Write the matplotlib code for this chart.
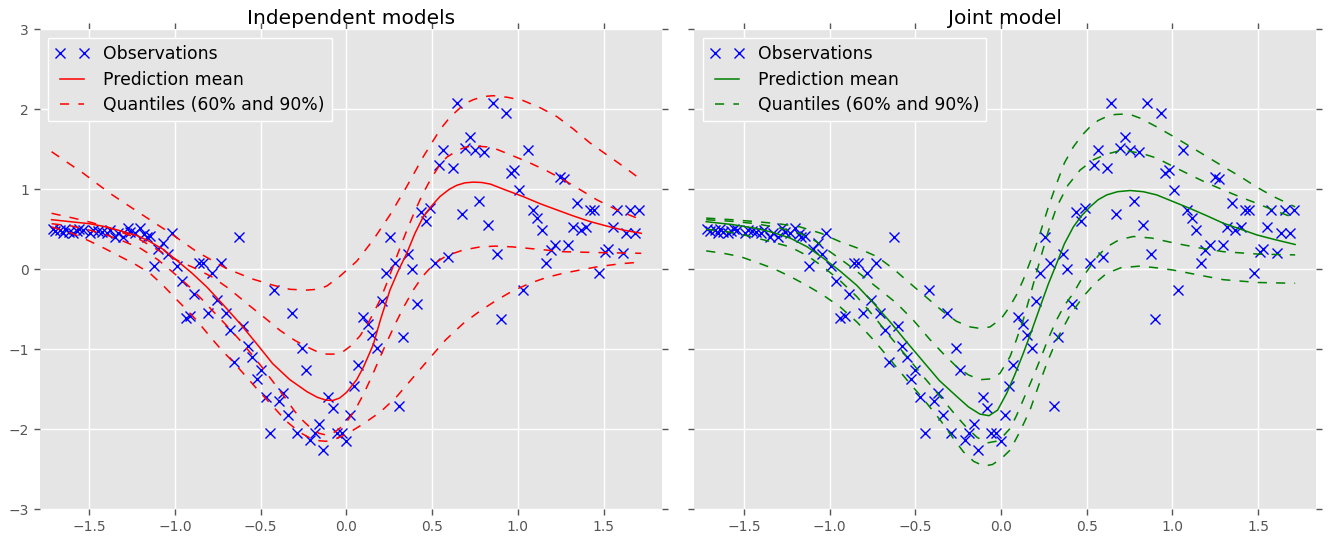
import matplotlib
matplotlib.use("Agg")
import matplotlib.pyplot as plt

# ---------------- data ----------------
obs_x = [-1.713, -1.700, -1.670, -1.652, -1.642, -1.620, -1.593, -1.574, -1.560, -1.539,
         -1.496, -1.477, -1.450, -1.428, -1.399, -1.380, -1.350, -1.331, -1.302, -1.276,
         -1.260, -1.233, -1.204, -1.180, -1.165, -1.146, -1.121, -1.097, -1.068, -1.043,
         -1.019, -0.990, -0.961, -0.938, -0.913, -0.889, -0.858, -0.835, -0.806, -0.782,
         -0.757, -0.730, -0.704, -0.679, -0.654, -0.627, -0.602, -0.576, -0.551, -0.523,
         -0.500, -0.470, -0.446, -0.420, -0.392, -0.368, -0.340, -0.316, -0.290, -0.261,
         -0.237, -0.212, -0.185, -0.158, -0.135, -0.106, -0.080, -0.057, -0.027, 0.000,
         0.021, 0.046, 0.068, 0.099, 0.128, 0.151, 0.180, 0.206, 0.229, 0.254,
         0.284, 0.309, 0.332, 0.361, 0.385, 0.414, 0.435, 0.464, 0.488, 0.517,
         0.540, 0.565, 0.595, 0.620, 0.644, 0.673, 0.692, 0.721, 0.750, 0.775,
         0.803, 0.828, 0.854, 0.877, 0.900, 0.931, 0.958, 0.978, 1.009, 1.032,
         1.061, 1.087, 1.114, 1.139, 1.164, 1.192, 1.217, 1.246, 1.270, 1.295,
         1.320, 1.347, 1.367, 1.398, 1.421, 1.444, 1.476, 1.509, 1.528, 1.554,
         1.577, 1.612, 1.631, 1.655, 1.684, 1.709]
obs_y = [0.51, 0.48, 0.49, 0.46, 0.51, 0.47, 0.46, 0.48, 0.50, 0.49,
         0.46, 0.49, 0.48, 0.47, 0.46, 0.49, 0.41, 0.46, 0.41, 0.52,
         0.47, 0.46, 0.52, 0.44, 0.41, 0.42, 0.045, 0.25, 0.33, 0.19,
         0.46, 0.045, -0.14, -0.61, -0.585, -0.31, 0.075, 0.075, -0.54, -0.04,
         -0.38, 0.075, -0.54, -0.76, -1.16, 0.41, -0.71, -0.96, -1.095, -1.375,
         -1.26, -1.595, -2.04, -0.26, -1.65, -1.54, -1.82, -0.54, -2.04, -0.98,
         -1.26, -2.13, -2.04, -1.93, -2.26, -1.595, -1.73, -2.04, -2.04, -2.15,
         -1.82, -1.46, -1.19, -0.59, -0.68, -0.82, -0.98, -0.40, -0.04, 0.41,
         0.075, -1.71, -0.845, 0.19, 0.01, -0.435, 0.72, 0.605, 0.765, 0.075,
         1.30, 1.495, 0.16, 1.27, 2.08, 0.69, 1.515, 1.66, 1.495, 0.85,
         1.465, 0.55, 2.08, 0.19, -0.62, 1.96, 1.20, 1.245, 0.995, -0.26,
         1.495, 0.745, 0.64, 0.49, 0.075, 0.24, 0.305, 1.15, 1.13, 0.305,
         0.53, 0.83, 0.49, 0.53, 0.745, 0.745, -0.04, 0.22, 0.25, 0.53,
         0.745, 0.21, 0.46, 0.745, 0.46, 0.745]

# Independent models (red)
ind_mean_x = [-1.72, -1.5, -1.4, -1.3, -1.22, -1.15, -1.07, -1.0, -0.9, -0.815, -0.72,
              -0.62, -0.52, -0.43, -0.33, -0.23, -0.17, -0.12, -0.08, -0.04, 0.0,
              0.06, 0.1, 0.157, 0.2, 0.254, 0.3, 0.352, 0.4, 0.449, 0.5, 0.546, 0.6,
              0.644, 0.69, 0.74, 0.79, 0.84, 0.93, 1.03, 1.13, 1.227, 1.32, 1.421, 1.52,
              1.616, 1.72]
ind_mean_y = [0.62, 0.57, 0.53, 0.47, 0.42, 0.35, 0.25, 0.13, -0.05, -0.22, -0.44,
              -0.68, -0.94, -1.18, -1.38, -1.53, -1.60, -1.635, -1.64, -1.61, -1.54,
              -1.38, -1.22, -0.94, -0.62, -0.26, -0.03, 0.2, 0.45, 0.66, 0.80, 0.91, 1.0,
              1.05, 1.08, 1.09, 1.085, 1.065, 0.99, 0.91, 0.82, 0.743, 0.67, 0.597, 0.54,
              0.49, 0.45]
ind_u90_x = [-1.72, -1.535, -1.38, -1.204, -1.04, -0.873, -0.70, -0.55, -0.426, -0.33,
             -0.232, -0.17, -0.115, -0.04, 0.06, 0.157, 0.254, 0.352, 0.449, 0.546,
             0.6, 0.644, 0.69, 0.74, 0.8, 0.857, 0.94, 1.03, 1.13, 1.227, 1.32, 1.421,
             1.52, 1.616, 1.72]
ind_u90_y = [1.47, 1.20, 0.95, 0.70, 0.47, 0.22, 0.01, -0.12, -0.20, -0.25,
             -0.26, -0.25, -0.21, -0.09, 0.10, 0.37, 0.68, 1.035, 1.41, 1.745,
             1.89, 1.98, 2.07, 2.12, 2.16, 2.17, 2.15, 2.11, 2.02, 1.91, 1.76, 1.58,
             1.43, 1.285, 1.12]
ind_u60_x = [-1.72, -1.593, -1.496, -1.40, -1.22, -1.05, -0.97, -0.87, -0.78, -0.68,
             -0.58, -0.48, -0.39, -0.30, -0.23, -0.17, -0.115, -0.06, -0.02, 0.03,
             0.08, 0.13, 0.196, 0.24, 0.29, 0.34, 0.39, 0.44, 0.49, 0.54, 0.585,
             0.65, 0.70, 0.76, 0.82, 0.877, 0.97, 1.07, 1.17, 1.265, 1.36, 1.46,
             1.59, 1.72]
ind_u60_y = [0.70, 0.64, 0.59, 0.53, 0.39, 0.18, 0.095, 0.0, -0.10, -0.25,
             -0.43, -0.60, -0.76, -0.89, -0.97, -1.03, -1.06, -1.06, -1.03, -0.95,
             -0.83, -0.66, -0.385, -0.15, 0.14, 0.42, 0.68, 0.92, 1.12, 1.29, 1.40,
             1.49, 1.53, 1.54, 1.53, 1.50, 1.42, 1.33, 1.23, 1.12, 1.00, 0.87,
             0.73, 0.62]
ind_l60_x = [-1.72, -1.6, -1.5, -1.4, -1.3, -1.2, -1.1, -1.0, -0.92, -0.85, -0.78,
             -0.7, -0.62, -0.55, -0.49, -0.43, -0.36, -0.3, -0.25, -0.2, -0.16,
             -0.12, -0.08, -0.04, 0.0, 0.05, 0.1, 0.15, 0.196, 0.24, 0.29, 0.34,
             0.39, 0.44, 0.49, 0.54, 0.585, 0.68, 0.78, 0.87, 0.97, 1.12, 1.265,
             1.45, 1.72]
ind_l60_y = [0.57, 0.54, 0.49, 0.43, 0.35, 0.26, 0.12, -0.06, -0.21, -0.36, -0.52,
             -0.70, -0.89, -1.07, -1.23, -1.40, -1.60, -1.78, -1.90, -2.0, -2.05,
             -2.07, -2.05, -1.99, -1.91, -1.76, -1.56, -1.33, -1.1, -0.89, -0.66, -0.45,
             -0.26, -0.10, 0.02, 0.11, 0.17, 0.24, 0.28, 0.29, 0.28, 0.25, 0.22,
             0.21, 0.2]
ind_l90_x = [-1.72, -1.6, -1.496, -1.41, -1.32, -1.23, -1.146, -1.07, -0.99, -0.93,
             -0.873, -0.80, -0.728, -0.66, -0.602, -0.52, -0.426, -0.35, -0.271, -0.22,
             -0.173, -0.12, -0.076, -0.02, 0.04, 0.1, 0.2, 0.29, 0.39, 0.49, 0.58,
             0.68, 0.78, 0.877, 0.97, 1.07, 1.17, 1.265, 1.36, 1.46, 1.6, 1.72]
ind_l90_y = [0.53, 0.45, 0.35, 0.26, 0.16, 0.06, -0.05, -0.2, -0.38, -0.51,
             -0.64, -0.83, -1.01, -1.16, -1.30, -1.50, -1.72, -1.90, -2.04, -2.10,
             -2.14, -2.15, -2.13, -2.08, -2.01, -1.93, -1.78, -1.6, -1.35, -1.1, -0.88,
             -0.68, -0.52, -0.385, -0.27, -0.175, -0.10, -0.05, -0.01, 0.03, 0.07, 0.09]

# Joint model (green)
jnt_mean_x = [-1.72, -1.57, -1.425, -1.33, -1.23, -1.13, -1.037, -0.94, -0.842, -0.745,
              -0.648, -0.55, -0.453, -0.36, -0.258, -0.19, -0.123, -0.07, -0.02, 0.033,
              0.08, 0.13, 0.18, 0.228, 0.275, 0.325, 0.37, 0.422, 0.47, 0.519, 0.567,
              0.617, 0.68, 0.753, 0.83, 0.908, 1.0, 1.103, 1.2, 1.298, 1.4, 1.492,
              1.6, 1.716]
jnt_mean_y = [0.595, 0.56, 0.51, 0.46, 0.39, 0.28, 0.14, -0.02, -0.2, -0.42,
              -0.655, -0.91, -1.155, -1.39, -1.59, -1.72, -1.81, -1.83, -1.76, -1.55,
              -1.32, -1.05, -0.76, -0.47, -0.19, 0.075, 0.32, 0.53, 0.67, 0.78, 0.87,
              0.93, 0.97, 0.985, 0.97, 0.93, 0.85, 0.76, 0.67, 0.575, 0.50, 0.43,
              0.37, 0.31]
jnt_u90_x = [-1.72, -1.57, -1.425, -1.3, -1.173, -1.05, -0.939, -0.83, -0.725, -0.63,
             -0.531, -0.43, -0.337, -0.26, -0.18, -0.12, -0.064, 0.0, 0.05, 0.09,
             0.13, 0.18, 0.228, 0.275, 0.325, 0.37, 0.422, 0.47, 0.519, 0.567, 0.617,
             0.665, 0.714, 0.76, 0.811, 0.9, 1.006, 1.1, 1.2, 1.3, 1.395, 1.49,
             1.589, 1.716]
jnt_u90_y = [0.64, 0.62, 0.595, 0.57, 0.53, 0.45, 0.345, 0.26, 0.16, 0.01,
             -0.175, -0.36, -0.53, -0.65, -0.72, -0.74, -0.72, -0.62, -0.47, -0.32,
             -0.13, 0.15, 0.45, 0.77, 1.075, 1.33, 1.53, 1.67, 1.78, 1.86, 1.91,
             1.935, 1.94, 1.93, 1.89, 1.79, 1.66, 1.54, 1.41, 1.28, 1.16, 1.03,
             0.91, 0.78]
jnt_u60_x = [-1.72, -1.57, -1.43, -1.3, -1.173, -1.08, -0.998, -0.9, -0.803, -0.71,
             -0.609, -0.51, -0.414, -0.33, -0.258, -0.19, -0.123, -0.06, -0.006, 0.053,
             0.09, 0.13, 0.18, 0.228, 0.275, 0.325, 0.39, 0.461, 0.54, 0.617, 0.68,
             0.733, 0.82, 0.908, 1.0, 1.103, 1.2, 1.298, 1.4, 1.492, 1.6, 1.716]
jnt_u60_y = [0.62, 0.60, 0.57, 0.52, 0.45, 0.35, 0.22, 0.07, -0.09, -0.25,
             -0.425, -0.64, -0.88, -1.07, -1.22, -1.32, -1.38, -1.37, -1.30, -1.09,
             -0.88, -0.63, -0.25, 0.12, 0.47, 0.78, 1.05, 1.24, 1.37, 1.44, 1.475,
             1.48, 1.45, 1.39, 1.29, 1.18, 1.08, 0.99, 0.90, 0.825, 0.73, 0.64]
jnt_l60_x = [-1.72, -1.6, -1.5, -1.37, -1.23, -1.13, -1.037, -0.94, -0.842, -0.745,
             -0.648, -0.55, -0.453, -0.355, -0.258, -0.2, -0.14, -0.08, -0.03, 0.01,
             0.053, 0.09, 0.13, 0.18, 0.228, 0.275, 0.325, 0.37, 0.422, 0.47, 0.519,
             0.567, 0.617, 0.69, 0.772, 0.88, 1.006, 1.15, 1.298, 1.5, 1.716]
jnt_l60_y = [0.50, 0.47, 0.43, 0.36, 0.28, 0.17, 0.03, -0.14, -0.34, -0.58,
             -0.84, -1.09, -1.34, -1.59, -1.84, -1.98, -2.10, -2.17, -2.15, -2.09,
             -1.99, -1.83, -1.63, -1.38, -1.13, -0.87, -0.63, -0.45, -0.30, -0.12, 0.03,
             0.17, 0.28, 0.37, 0.41, 0.39, 0.33, 0.27, 0.22, 0.19, 0.18]
jnt_l90_x = [-1.72, -1.62, -1.523, -1.43, -1.328, -1.23, -1.134, -1.04, -0.939, -0.84,
             -0.745, -0.65, -0.55, -0.45, -0.356, -0.29, -0.22, -0.16, -0.1, -0.05,
             0.0, 0.053, 0.11, 0.169, 0.22, 0.27, 0.325, 0.4, 0.48, 0.55, 0.617,
             0.7, 0.811, 0.9, 1.006, 1.15, 1.298, 1.5, 1.716]
jnt_l90_y = [0.23, 0.20, 0.16, 0.09, 0.01, -0.09, -0.2, -0.32, -0.47, -0.66,
             -0.88, -1.12, -1.38, -1.63, -1.88, -2.08, -2.28, -2.40, -2.46, -2.44,
             -2.37, -2.26, -2.03, -1.76, -1.45, -1.16, -0.88, -0.58, -0.34, -0.17, -0.05,
             0.02, 0.04, 0.02, -0.01, -0.07, -0.13, -0.165, -0.175]

x_ticks = [-1.5, -1.0, -0.5, 0.0, 0.5, 1.0, 1.5]
y_ticks = [-3, -2, -1, 0, 1, 2, 3]
titles = ["Independent models", "Joint model"]

# ---------------- figure ----------------
fig = plt.figure(figsize=(13.38, 5.38), dpi=100)
W, H = 1338.0, 538.0
ax1 = fig.add_axes([39.6 / W, (H - 509.3) / H, 622.2 / W, 480.0 / H])
ax2 = fig.add_axes([694.2 / W, (H - 509.3) / H, 622.2 / W, 480.0 / H], sharey=ax1)

bg = "#E5E5E5"
dash = (0, (6, 6))

panels = [
    (ax1, "r", ind_mean_x, ind_mean_y,
     [(ind_u90_x, ind_u90_y), (ind_u60_x, ind_u60_y), (ind_l60_x, ind_l60_y), (ind_l90_x, ind_l90_y)]),
    (ax2, "g", jnt_mean_x, jnt_mean_y,
     [(jnt_u90_x, jnt_u90_y), (jnt_u60_x, jnt_u60_y), (jnt_l60_x, jnt_l60_y), (jnt_l90_x, jnt_l90_y)]),
]

for i, (ax, col, mx, my, qs) in enumerate(panels):
    ax.set_facecolor(bg)
    for s in ax.spines.values():
        s.set_visible(False)
    ax.grid(True, color="white", linewidth=1.0, linestyle="-")
    ax.set_axisbelow(True)
    ax.plot(obs_x, obs_y, "x", color="b", markersize=7, markeredgewidth=1.0,
            label="Observations")
    ax.plot(mx, my, "-", color=col, linewidth=1.1, label="Prediction mean")
    for k, (qx, qy) in enumerate(qs):
        ax.plot(qx, qy, color=col, linewidth=1.1, linestyle=dash,
                label="Quantiles (60% and 90%)" if k == 0 else "_nolegend_")
    ax.set_xlim(-1.79, 1.84)
    ax.set_ylim(-3, 3)
    ax.set_xticks(x_ticks)
    ax.set_yticks(y_ticks)
    ax.tick_params(axis="both", which="both", direction="out", length=4, width=1,
                   color="#555555", labelcolor="#555555", labelsize=10,
                   top=True, right=True, bottom=True, left=True)
    ax.set_title(titles[i], fontsize=14.5, pad=4)
    leg = ax.legend(loc="upper left", numpoints=2, fontsize=12.4, fancybox=False,
                    framealpha=1.0, facecolor=bg, edgecolor="white",
                    handlelength=2.0, borderpad=0.4, labelspacing=0.45)
    leg.get_frame().set_linewidth(1.0)

plt.setp(ax2.get_yticklabels(), visible=False)

fig.savefig("out.png", dpi=100, facecolor="white")
